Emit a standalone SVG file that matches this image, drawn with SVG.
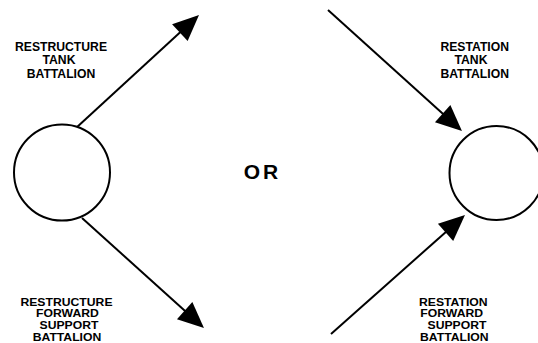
<svg xmlns="http://www.w3.org/2000/svg" width="538" height="343" viewBox="0 0 538 343">
<style>
.lbl{font-family:"Liberation Sans",Arial,sans-serif;font-weight:bold;font-size:12.2px;fill:#000;text-anchor:middle}
.or{font-family:"Liberation Sans",Arial,sans-serif;font-weight:bold;font-size:21px;fill:#000;text-anchor:middle;letter-spacing:3px}
.node{fill:#fff;stroke:#000;stroke-width:2}
.edge{stroke:#000;stroke-width:2;fill:none;marker-end:url(#ah)}
</style>
<defs>
<marker id="ah" markerUnits="userSpaceOnUse" markerWidth="26" markerHeight="23" refX="20" refY="11.5" orient="auto" overflow="visible">
<path d="M0,0 L26,11.5 L0,23 Z" fill="#000"/>
</marker>
</defs>
<rect width="538" height="343" fill="#fff"/>
<g id="connectors">
<line class="edge" x1="76" y1="128" x2="194.6" y2="19.1"/>
<line class="edge" x1="82" y1="218" x2="199.5" y2="324"/>
<line class="edge" x1="328" y1="10" x2="457.5" y2="127"/>
<line class="edge" x1="331" y1="334" x2="460.5" y2="219"/>
</g>
<g id="left-circle"><circle class="node" cx="62" cy="172.5" r="48"/></g>
<g id="right-circle"><circle class="node" cx="496.5" cy="173" r="47"/></g>
<g id="restructure-tank">
<text class="lbl"><tspan x="61" y="50.5">RESTRUCTURE</tspan><tspan x="59" y="64">TANK</tspan><tspan x="61" y="77.5">BATTALION</tspan></text>
</g>
<g id="restructure-fsb" transform="scale(1,0.85)">
<text class="lbl"><tspan x="66.5" y="359.76">RESTRUCTURE</tspan><tspan x="67.5" y="373.41">FORWARD</tspan><tspan x="69" y="387.06">SUPPORT</tspan><tspan x="67" y="400.71">BATTALION</tspan></text>
</g>
<g id="restation-tank">
<text class="lbl"><tspan x="474.7" y="50.5">RESTATION</tspan><tspan x="471" y="64">TANK</tspan><tspan x="474.7" y="77.5">BATTALION</tspan></text>
</g>
<g id="restation-fsb" transform="scale(1,0.85)">
<text class="lbl"><tspan x="453.3" y="359.76">RESTATION</tspan><tspan x="451.7" y="373.41">FORWARD</tspan><tspan x="457" y="387.06">SUPPORT</tspan><tspan x="454.3" y="400.71">BATTALION</tspan></text>
</g>
<g id="or"><text class="or" x="262.5" y="179.3">OR</text></g>
</svg>
